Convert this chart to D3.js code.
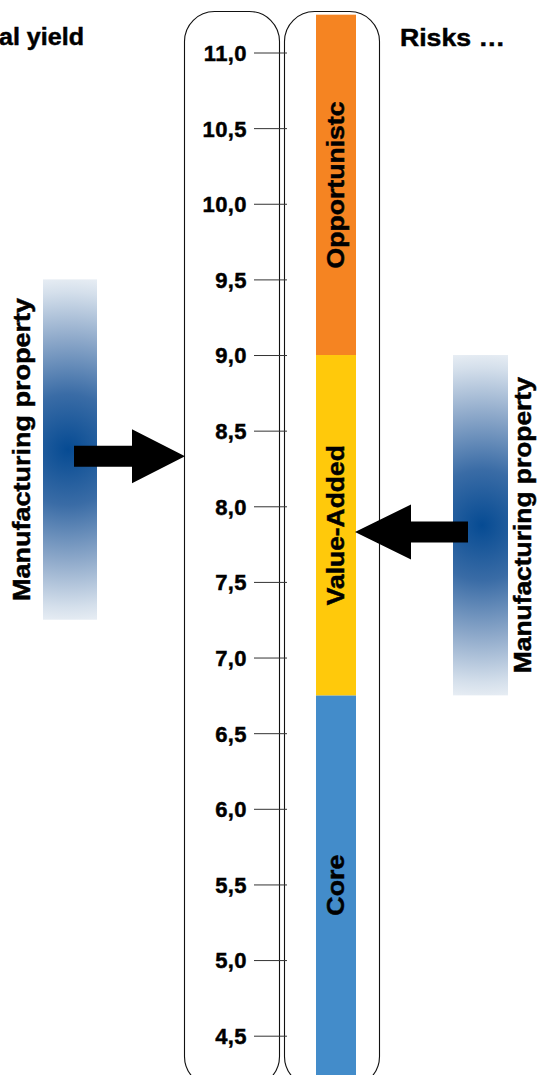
<!DOCTYPE html>
<html><head><meta charset="utf-8">
<script src="https://cdn.jsdelivr.net/npm/d3@7"></script>
<style>body{margin:0;background:#fff}svg{display:block}</style></head>
<body>
<script>
// ---- data ----
const tickValues = [4.5,5.0,5.5,6.0,6.5,7.0,7.5,8.0,8.5,9.0,9.5,10.0,10.5,11.0];
const segmentNames = ["Core","Value-Added","Opportunistc"];
const segmentFrom  = [4.2, 6.75, 9.0];
const segmentTo    = [6.75, 9.0, 11.25];
const segmentColors = ["#438cca","#ffc90b","#f58422"];
const markerLabels = ["Manufacturing property","Manufacturing property"];
const markerValues = [8.33, 7.83];
const bandTop    = [9.5, 9.0];
const bandBottom = [7.25, 6.75];
const titles = ["al yield","Risks …"];

const W = 540, H = 1075;
const svg = d3.select("body").append("svg").attr("width",W).attr("height",H)
  .style("font-family","'Liberation Sans', Arial, Helvetica, sans-serif");

const y = d3.scaleLinear().domain([4.5, 11]).range([1035.7, 52.5]);
const fmt = d3.formatLocale({decimal:",", thousands:".", grouping:[3], currency:["",""]}).format(".1f");

const defs = svg.append("defs");
const boldStroke = 0.45;

// pills
const pills = [{x:184.5},{x:284.5}];
svg.selectAll("rect.pill").data(pills).join("rect")
  .attr("class","pill").attr("x",d=>d.x).attr("y",11.5)
  .attr("width",95).attr("height",1075).attr("rx",30).attr("ry",30)
  .attr("fill","none").attr("stroke","#111").attr("stroke-width",1.1);

// segments
const barX = 316, barW = 40;
svg.selectAll("rect.seg").data(segmentNames).join("rect")
  .attr("class","seg").attr("x",barX).attr("width",barW)
  .attr("y",(d,i)=>y(segmentTo[i]))
  .attr("height",(d,i)=>y(segmentFrom[i])-y(segmentTo[i]))
  .attr("fill",(d,i)=>segmentColors[i]);

// segment labels (centered in visible part)
const lengths = {"Core":61,"Value-Added":160,"Opportunistc":167};
svg.selectAll("text.seglab").data(segmentNames).join("text")
  .attr("class","seglab")
  .attr("transform",(d,i)=>{
    const top = Math.max(y(segmentTo[i]),15), bot = Math.min(y(segmentFrom[i]),1075);
    return `translate(${barX+barW/2+8},${(top+bot)/2}) rotate(-90)`;})
  .attr("text-anchor","middle").attr("font-weight","bold").attr("font-size",23)
  .attr("stroke","#000").attr("stroke-width",boldStroke)
  .attr("textLength",d=>lengths[d]).attr("lengthAdjust","spacingAndGlyphs")
  .attr("fill","#000").text(d=>d);

// axis
const axis = d3.axisLeft(y).tickValues(tickValues).tickFormat(fmt).tickSize(33).tickPadding(7);
const ag = svg.append("g").attr("transform","translate(287,0)").call(axis);
ag.select(".domain").remove();
ag.selectAll(".tick line").attr("stroke","#333").attr("stroke-width",1);
ag.selectAll(".tick text").attr("font-size",22).attr("font-weight","bold")
  .attr("fill","#000").attr("stroke","#000").attr("stroke-width",boldStroke)
  .attr("font-family","'Liberation Sans', Arial, sans-serif")
  .attr("letter-spacing","0.4px").attr("dy","0.36em");

// gradient bands
const bands = [
  {x:43, w:54, cx:68},
  {x:453, w:55, cx:482}
];
bands.forEach((b,i)=>{
  const cy = (y(bandTop[i])+y(bandBottom[i]))/2;
  const g = defs.append("radialGradient").attr("id","rg"+i)
    .attr("gradientUnits","userSpaceOnUse").attr("cx",b.cx).attr("cy",cy).attr("r",185)
    .attr("fx",b.cx).attr("fy",cy);
  [[0,"#064b93"],[0.3,"#3a6ca6"],[0.6,"#8ea9ca"],[0.85,"#d4dfeb"],[1,"#f7f9fb"]]
    .forEach(s=>g.append("stop").attr("offset",s[0]).attr("stop-color",s[1]));
  svg.append("rect").attr("x",b.x).attr("width",b.w)
    .attr("y",y(bandTop[i])).attr("height",y(bandBottom[i])-y(bandTop[i]))
    .attr("fill",`url(#rg${i})`);
});

// arrows
const arrows = [
  {tip:185, dir:1, head:53, hh:27, sh:10.5, tail:74},
  {tip:355, dir:-1, head:56, hh:27.5, sh:10.5, tail:468}
];
svg.selectAll("path.arrow").data(markerValues).join("path")
  .attr("class","arrow")
  .attr("d",(v,i)=>{
    const a = arrows[i], cy = y(v);
    const hb = a.tip - a.dir*a.head;
    return `M${a.tip},${cy} L${hb},${cy-a.hh} L${hb},${cy-a.sh} L${a.tail},${cy-a.sh} L${a.tail},${cy+a.sh} L${hb},${cy+a.sh} L${hb},${cy+a.hh} Z`;
  }).attr("fill","#000");

// marker labels
const labelPos = [{x:30, len:303},{x:531, len:296}];
svg.selectAll("text.mlab").data(markerLabels).join("text")
  .attr("class","mlab")
  .attr("transform",(d,i)=>{
    const cy = (y(bandTop[i])+y(bandBottom[i]))/2;
    return `translate(${labelPos[i].x},${cy}) rotate(-90)`;})
  .attr("text-anchor","middle").attr("font-weight","bold").attr("font-size",23)
  .attr("stroke","#000").attr("stroke-width",boldStroke)
  .attr("textLength",(d,i)=>labelPos[i].len).attr("lengthAdjust","spacingAndGlyphs")
  .text(d=>d);

// titles
svg.append("text").attr("x",-1).attr("y",45).attr("font-weight","bold").attr("font-size",23)
  .attr("stroke","#000").attr("stroke-width",boldStroke)
  .attr("textLength",85).attr("lengthAdjust","spacingAndGlyphs").text(titles[0]);
svg.append("text").attr("x",400).attr("y",45.5).attr("font-weight","bold").attr("font-size",23)
  .attr("stroke","#000").attr("stroke-width",boldStroke)
  .attr("textLength",105).attr("lengthAdjust","spacingAndGlyphs").text(titles[1]);
</script>
</body></html>
